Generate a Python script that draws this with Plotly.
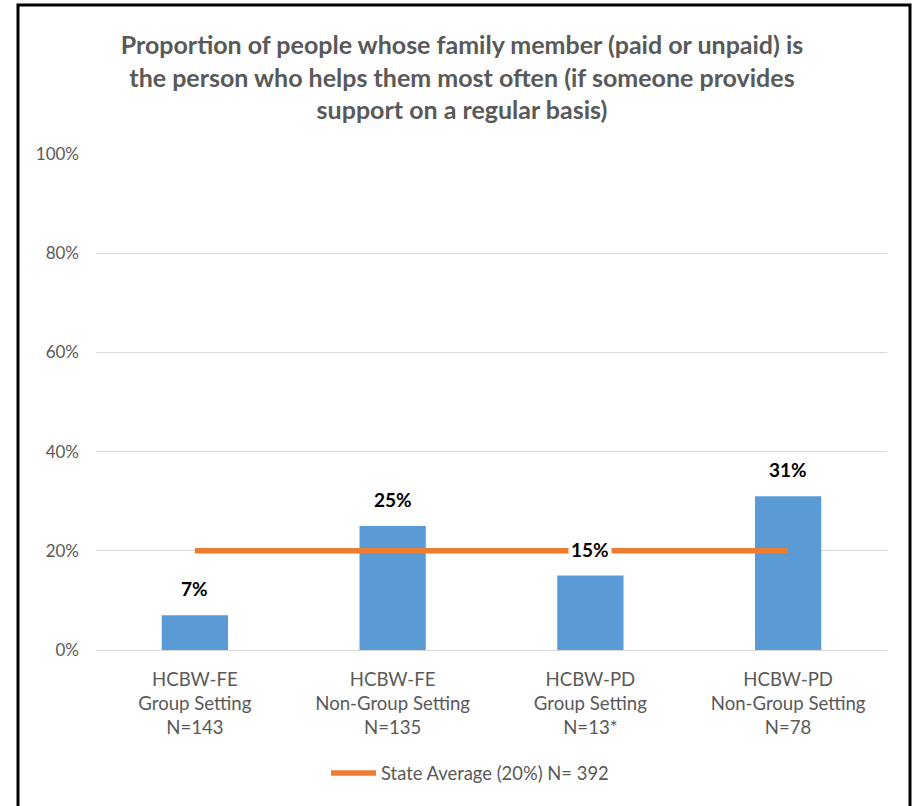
import plotly.graph_objects as go

# Chart data
categories = [
    "HCBW-FE<br>Group Setting<br>N=143",
    "HCBW-FE<br>Non-Group Setting<br>N=135",
    "HCBW-PD<br>Group Setting<br>N=13*",
    "HCBW-PD<br>Non-Group Setting<br>N=78",
]
family_share = [7, 25, 15, 31]          # percent
state_average = [20, 20, 20, 20]        # percent
state_label = "State Average (20%) N= 392"
title_text = ("Proportion of people whose family member (paid or unpaid) is<br>"
              "the person who helps them most often (if someone provides<br>"
              "support on a regular basis)")

W, H = 917, 806
L, R, T, B = 96, 30, 154, 156
pw, ph = W - L - R, H - T - B

def px_x(p):
    return (p - L) / pw

def px_y(p):
    return (H - B - p) / ph

FONT = "Lato"
GRAY = "#595959"
ORANGE = "#ED7D31"

fig = go.Figure()

fig.add_trace(go.Bar(
    x=categories, y=family_share,
    marker=dict(color="#5B9BD5", line=dict(width=0)),
    width=0.335, showlegend=False, hoverinfo="skip",
))

fig.add_trace(go.Scatter(
    x=categories, y=state_average, mode="lines",
    line=dict(color=ORANGE, width=5.5),
    name=state_label, hoverinfo="skip", showlegend=False,
))

# value labels above bars
for cat, v in zip(categories, family_share):
    fig.add_annotation(
        x=cat, y=v, xref="x", yref="y",
        text=f"<b>{v}%</b>", showarrow=False,
        yanchor="bottom", yshift=12,
        font=dict(family=FONT, size=19, color="#000000"),
        bgcolor="#FFFFFF", borderpad=2,
    )

# legend key: orange stroke followed by series name
fig.add_shape(
    type="line", xref="paper", yref="paper",
    x0=px_x(331), x1=px_x(376), y0=px_y(773), y1=px_y(773),
    line=dict(color=ORANGE, width=5.5),
)
fig.add_annotation(
    x=px_x(379), y=px_y(773), xref="paper", yref="paper",
    text=state_label, showarrow=False, xanchor="left", yanchor="middle",
    font=dict(family=FONT, size=18.4, color=GRAY),
)

# outer frame (open at the bottom)
fig.add_shape(
    type="path", xref="paper", yref="paper",
    path=(f"M {px_x(18)} {px_y(830)} L {px_x(18)} {px_y(5)} "
          f"L {px_x(910)} {px_y(5)} L {px_x(910)} {px_y(830)}"),
    line=dict(color="#000000", width=3),
)

fig.update_layout(
    width=W, height=H,
    margin=dict(l=L, r=R, t=T, b=B),
    paper_bgcolor="#FFFFFF", plot_bgcolor="#FFFFFF",
    title=dict(
        text=f"<b>{title_text}</b>",
        x=462 / W, xanchor="center", xref="container",
        y=1 - 54 / H, yanchor="middle", yref="container",
        font=dict(family=FONT, size=25, color=GRAY),
    ),
    font=dict(family=FONT, color=GRAY),
    showlegend=False,
    bargap=0.665,
)

fig.update_xaxes(
    showgrid=False, showline=False, zeroline=False, ticks="",
    tickfont=dict(family=FONT, size=18.6, color=GRAY),
    ticklabelstandoff=16,
    fixedrange=True,
)
fig.update_yaxes(
    range=[0, 100], dtick=20, ticksuffix="%",
    showgrid=True, gridcolor="#D9D9D9", gridwidth=1,
    zeroline=True, zerolinecolor="#D9D9D9", zerolinewidth=1,
    showline=False, ticks="", ticklabelstandoff=16,
    tickfont=dict(family=FONT, size=17, color=GRAY),
    fixedrange=True,
)

fig.write_html("out.html")
